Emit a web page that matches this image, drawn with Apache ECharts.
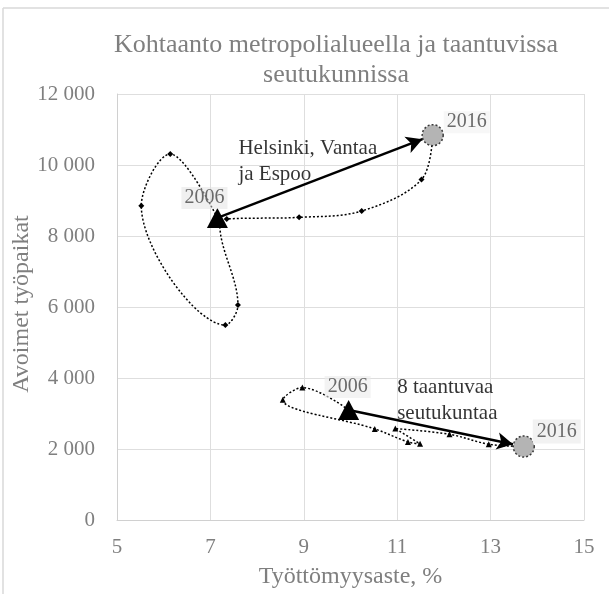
<!DOCTYPE html>
<html><head><meta charset="utf-8">
<script src="https://cdn.jsdelivr.net/npm/echarts@6/dist/echarts.min.js"></script>
<style>html,body{margin:0;padding:0;background:#fff}#c{width:609px;height:594px}</style>
</head><body><div id="c"></div><script>
// ---- data ----
const titleText = 'Kohtaanto metropolialueella ja taantuvissa\nseutukunnissa';
const xAxisName = 'Työttömyysaste, %';
const yAxisName = 'Avoimet työpaikat';
const xTicks = [5, 7, 9, 11, 13, 15];
const yTicks = [0, 2000, 4000, 6000, 8000, 10000, 12000];
// Helsinki, Vantaa ja Espoo, 2006..2016
const hkiX = [7.15, 6.14, 5.52, 7.32, 7.59, 7.20, 7.35, 8.90, 10.24, 11.52, 11.76];
const hkiY = [8510, 10310, 8855, 5490, 6055, 8350, 8480, 8525, 8705, 9590, 10840];
// 8 taantuvaa seutukuntaa
const taX = [9.96, 8.97, 8.55, 10.52, 11.23, 11.49, 10.96, 12.12, 12.96, 13.71];
const taY = [3100, 3730, 3385, 2565, 2200, 2145, 2575, 2415, 2135, 2070];
const startYear = '2006';
const endYear = '2016';
const hkiLabel = 'Helsinki, Vantaa\nja Espoo';
const taLabel = '8 taantuvaa\nseutukuntaa';

const FONT = 'Liberation Serif';
const GRAY = '#7f7f7f';
const zip = (xs, ys) => xs.map((x, i) => [x, ys[i]]);
const hki = zip(hkiX, hkiY);
const ta = zip(taX, taY);
const fmt = v => String(v).replace(/\B(?=(\d{3})+(?!\d))/g, ' ');

const chart = echarts.init(document.getElementById('c'), null, {renderer: 'canvas'});
const option = {
  animation: false,
  backgroundColor: '#fff',
  title: {
    text: titleText, left: 331, top: 25, textAlign: 'center',
    textStyle: {fontFamily: FONT, fontSize: 26, fontWeight: 'normal', color: GRAY, lineHeight: 30}
  },
  grid: {left: 117, right: 25, top: 94, bottom: 74, containLabel: false, outerBoundsMode: 'none'},
  xAxis: {
    type: 'value', min: xTicks[0], max: xTicks[xTicks.length - 1], interval: 2,
    name: xAxisName, nameLocation: 'middle', nameGap: 45,
    nameTextStyle: {fontFamily: FONT, fontSize: 24, color: GRAY},
    axisLine: {show: true, lineStyle: {color: '#d0d0d0'}},
    axisTick: {show: false},
    axisLabel: {fontFamily: FONT, fontSize: 21, color: GRAY, margin: 17},
    splitLine: {show: true, lineStyle: {color: '#dedede', width: 1}}
  },
  yAxis: {
    type: 'value', min: yTicks[0], max: yTicks[yTicks.length - 1], interval: 2000,
    axisLine: {show: true, lineStyle: {color: '#d0d0d0'}},
    axisTick: {show: false},
    axisLabel: {fontFamily: FONT, fontSize: 21, color: GRAY, margin: 22, formatter: fmt},
    splitLine: {show: true, lineStyle: {color: '#dedede', width: 1}}
  },
  graphic: [
    {type: 'line', shape: {x1: 3, y1: 8, x2: 3, y2: 594}, style: {stroke: '#d9d9d9', lineWidth: 1.5}, silent: true},
    {type: 'line', shape: {x1: 3, y1: 8, x2: 609, y2: 8}, style: {stroke: '#d9d9d9', lineWidth: 1.5}, silent: true},
    {type: 'text', x: 22, y: 304, rotation: Math.PI / 2,
     style: {text: yAxisName, font: '24px "' + FONT + '"', fill: GRAY, textAlign: 'center', textVerticalAlign: 'middle'}}
  ],
  series: [
    {
      id: 'hki', type: 'line', data: hki, smooth: 0.35, z: 2,
      symbol: 'diamond', symbolSize: 6, showSymbol: true,
      itemStyle: {color: '#000'},
      lineStyle: {color: '#000', width: 1.5, type: [2, 2]}
    },
    {
      id: 'ta', type: 'line', data: ta, smooth: 0.35, z: 2,
      symbol: 'triangle', symbolSize: 6, showSymbol: true,
      itemStyle: {color: '#000'},
      lineStyle: {color: '#000', width: 1.5, type: [2, 2]}
    },
    {
      id: 'start', type: 'scatter', z: 4, symbol: 'triangle', symbolSize: [21, 20],
      itemStyle: {color: '#000', opacity: 1},
      data: [
        {value: hki[0], label: {show: true, formatter: startYear, position: 'inside', offset: [-13, -20],
          backgroundColor: 'rgba(225,225,225,0.5)', padding: [1, 3]}},
        {value: ta[0], label: {show: true, formatter: startYear, position: 'inside', offset: [-1, -23],
          backgroundColor: 'rgba(235,235,235,0.6)', padding: [1, 3]}}
      ],
      label: {fontFamily: FONT, fontSize: 20, color: '#6a6a6a'}
    },
    {
      id: 'end', type: 'scatter', z: 4, symbol: 'circle', symbolSize: 21,
      itemStyle: {color: '#b4b4b4', borderColor: '#3a3a3a', borderWidth: 1.5, borderType: [2, 2], opacity: 1},
      data: [
        {value: hki[hki.length - 1], label: {show: true, formatter: endYear, position: 'inside', offset: [34, -13],
          backgroundColor: 'rgba(245,245,245,0.8)', padding: [1, 3]}},
        {value: ta[ta.length - 1], label: {show: true, formatter: endYear, position: 'inside', offset: [33, -15],
          backgroundColor: '#f2f2f2', padding: [2, 4]}}
      ],
      label: {fontFamily: FONT, fontSize: 20, color: '#6a6a6a'}
    },
    {
      id: 'notes', type: 'scatter', symbolSize: 0, silent: true, z: 5,
      data: [
        {value: [7.6, 10840], label: {show: true, formatter: hkiLabel}},
        {value: [11.0, 4090], label: {show: true, formatter: taLabel}}
      ],
      label: {position: 'right', distance: 0, align: 'left', verticalAlign: 'top',
        fontFamily: FONT, fontSize: 21, color: '#000', lineHeight: 26}
    }
  ]
};
chart.setOption(option);

function arrowEnd(p0, p1, gap) {
  const a = chart.convertToPixel({gridIndex: 0}, p0);
  const b = chart.convertToPixel({gridIndex: 0}, p1);
  const dx = b[0] - a[0], dy = b[1] - a[1], L = Math.hypot(dx, dy);
  return chart.convertFromPixel({gridIndex: 0}, [b[0] - dx / L * gap, b[1] - dy / L * gap]);
}
const mk = (p0, p1) => ({
  silent: true, symbol: ['none', 'arrow'], symbolSize: [13, 16],
  label: {show: false},
  lineStyle: {color: '#000', width: 2.5, type: 'solid'},
  data: [[{coord: p0}, {coord: arrowEnd(p0, p1, 11)}]]
});
chart.setOption({series: [
  {id: 'hki', markLine: mk(hki[0], hki[hki.length - 1])},
  {id: 'ta', markLine: mk(ta[0], ta[ta.length - 1])}
]});
</script></body></html>
